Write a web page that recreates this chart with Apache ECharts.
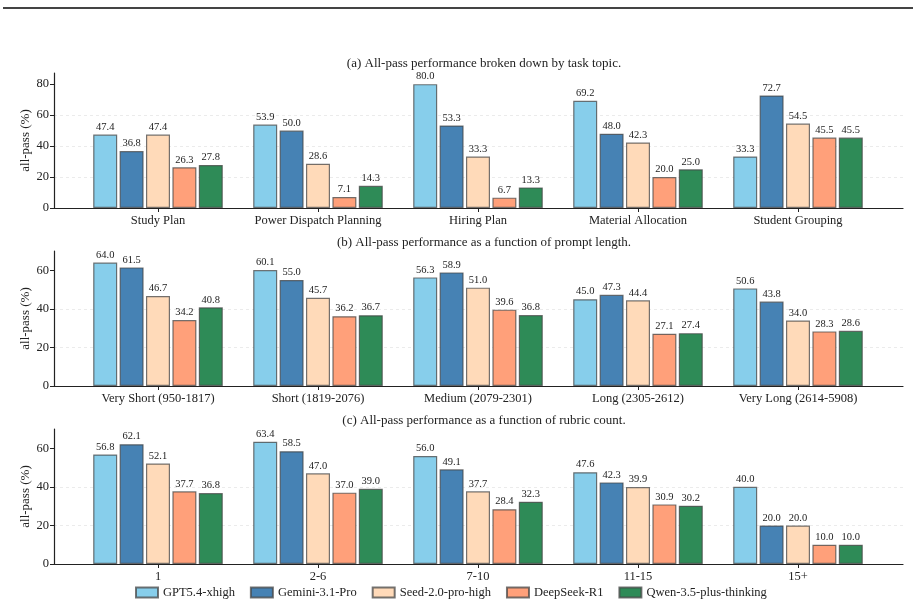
<!DOCTYPE html>
<html>
<head>
    <meta charset="utf-8">
    <title>all-pass</title>
    <script src="https://cdn.jsdelivr.net/npm/echarts@6/dist/echarts.min.js"></script>
</head>
<body style="margin:0;background:#fff;">
    <div id="main" style="width:921px;height:606px;"></div>
    <script type="text/javascript">
        // models (legend order)
        var models = ['GPT5.4-xhigh', 'Gemini-3.1-Pro', 'Seed-2.0-pro-high', 'DeepSeek-R1', 'Qwen-3.5-plus-thinking'];
        var colors = ['#87CEEB', '#4682B4', '#FFDAB9', '#FFA07A', '#2E8B57'];

        // (a) task topic
        var topics = ['Study Plan', 'Power Dispatch Planning', 'Hiring Plan', 'Material Allocation', 'Student Grouping'];
        var topicGPT      = [47.4, 53.9, 80.0, 69.2, 33.3];
        var topicGemini   = [36.8, 50.0, 53.3, 48.0, 72.7];
        var topicSeed     = [47.4, 28.6, 33.3, 42.3, 54.5];
        var topicDeepSeek = [26.3, 7.1, 6.7, 20.0, 45.5];
        var topicQwen     = [27.8, 14.3, 13.3, 25.0, 45.5];

        // (b) prompt length
        var lengths = ['Very Short (950-1817)', 'Short (1819-2076)', 'Medium (2079-2301)', 'Long (2305-2612)', 'Very Long (2614-5908)'];
        var lenGPT      = [64.0, 60.1, 56.3, 45.0, 50.6];
        var lenGemini   = [61.5, 55.0, 58.9, 47.3, 43.8];
        var lenSeed     = [46.7, 45.7, 51.0, 44.4, 34.0];
        var lenDeepSeek = [34.2, 36.2, 39.6, 27.1, 28.3];
        var lenQwen     = [40.8, 36.7, 36.8, 27.4, 28.6];

        // (c) rubric count
        var rubrics = ['1', '2-6', '7-10', '11-15', '15+'];
        var rubGPT      = [56.8, 63.4, 56.0, 47.6, 40.0];
        var rubGemini   = [62.1, 58.5, 49.1, 42.3, 20.0];
        var rubSeed     = [52.1, 47.0, 37.7, 39.9, 20.0];
        var rubDeepSeek = [37.7, 37.0, 28.4, 30.9, 10.0];
        var rubQwen     = [36.8, 39.0, 32.3, 30.2, 10.0];

        var ticksA = [0, 20, 40, 60, 80];
        var ticksBC = [0, 20, 40, 60];

        var font = '"Liberation Serif", "DejaVu Serif", serif';
        var txt = '#222';

        var panels = [
            {title: '(a) All-pass performance broken down by task topic.', cats: topics,
             vals: [topicGPT, topicGemini, topicSeed, topicDeepSeek, topicQwen], ticks: ticksA,
             top: 73, bottom: 208, max: 87.2, titleTop: 52},
            {title: '(b) All-pass performance as a function of prompt length.', cats: lengths,
             vals: [lenGPT, lenGemini, lenSeed, lenDeepSeek, lenQwen], ticks: ticksBC,
             top: 251, bottom: 386, max: 70, titleTop: 231},
            {title: '(c) All-pass performance as a function of rubric count.', cats: rubrics,
             vals: [rubGPT, rubGemini, rubSeed, rubDeepSeek, rubQwen], ticks: ticksBC,
             top: 429, bottom: 564, max: 70, titleTop: 409}
        ];

        var myChart = echarts.init(document.getElementById('main'), null, {renderer: 'canvas'});

        var grid = [], xAxis = [], yAxis = [], series = [], title = [];
        panels.forEach(function (p, k) {
            var h = p.bottom - p.top;
            // outer grid: full-width axis lines and grid lines
            grid.push({left: 54, right: 18, top: p.top, height: h});
            // inner grid: bars
            grid.push({left: 78, width: 800, top: p.top, height: h});
            var go = 2 * k, gi = 2 * k + 1;
            title.push({
                text: p.title, left: 479, top: p.titleTop, textAlign: 'center',
                textStyle: {fontFamily: font, fontSize: 13, fontWeight: 'normal', color: txt}
            });
            xAxis.push({
                gridIndex: go, type: 'value', min: 0, max: 1,
                axisLine: {show: true, lineStyle: {color: '#222', width: 1.2}},
                axisTick: {show: false}, axisLabel: {show: false}, splitLine: {show: false}
            });
            xAxis.push({
                gridIndex: gi, type: 'category', data: p.cats,
                axisLine: {show: false},
                axisTick: {show: true, alignWithLabel: true, length: 4, lineStyle: {color: '#222'}},
                axisLabel: {fontFamily: font, fontSize: 12.5, color: txt, margin: 6, interval: 0}
            });
            yAxis.push({
                gridIndex: go, type: 'value', min: 0, max: p.max,
                name: 'all-pass (%)', nameLocation: 'middle', nameGap: 22, nameMoveOverlap: false,
                nameTextStyle: {fontFamily: font, fontSize: 13, color: txt},
                axisLine: {show: true, lineStyle: {color: '#222', width: 1.2}},
                axisTick: {show: true, length: 4, customValues: p.ticks, lineStyle: {color: '#222'}},
                axisLabel: {fontFamily: font, fontSize: 12.5, color: txt, margin: 5, customValues: p.ticks},
                splitLine: {
                    show: true, showMinLine: false, showMaxLine: false,
                    lineStyle: {color: '#e6e6e6', type: [3, 3], width: 0.8}
                }
            });
            yAxis.push({
                gridIndex: gi, type: 'value', min: 0, max: p.max, show: false
            });
            p.vals.forEach(function (v, m) {
                series.push({
                    name: models[m], type: 'bar', xAxisIndex: gi, yAxisIndex: gi,
                    data: v, barWidth: 24, barGap: '10%',
                    itemStyle: {color: colors[m], borderColor: 'rgba(70,70,70,0.75)', borderWidth: 1.2},
                    label: {
                        show: true, position: 'top', distance: 2,
                        fontFamily: font, fontSize: 10.5, color: txt,
                        formatter: function (d) { return d.value.toFixed(1); }
                    },
                    animation: false
                });
            });
        });

        var option = {
            backgroundColor: '#fff',
            animation: false,
            title: title,
            graphic: [{
                type: 'line', shape: {x1: 3, y1: 8, x2: 913, y2: 8},
                style: {stroke: '#444', lineWidth: 2}
            }],
            legend: {
                data: models, top: 581, left: 130,
                icon: 'rect', itemWidth: 22, itemHeight: 10, itemGap: 15,
                textStyle: {fontFamily: font, fontSize: 12.5, color: txt}
            },
            grid: grid,
            xAxis: xAxis,
            yAxis: yAxis,
            series: series
        };

        myChart.setOption(option);
    </script>
</body>
</html>
